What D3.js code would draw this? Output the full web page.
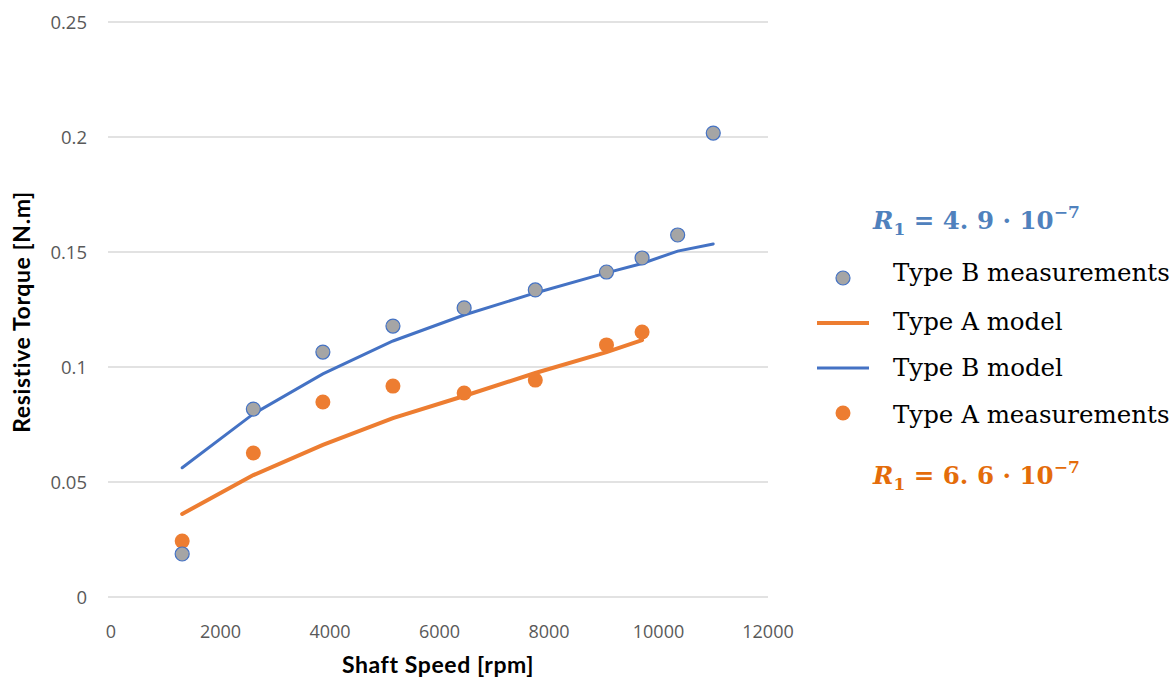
<!DOCTYPE html>
<html><head><meta charset="utf-8">
<script src="https://cdn.jsdelivr.net/npm/d3@7"></script>
<style>body{margin:0;background:#fff}svg{display:block}</style>
</head><body>
<svg id="c" width="1173" height="679"></svg>
<script>
const xTicks = [0,2000,4000,6000,8000,10000,12000];
const yTicks = [0,0.05,0.1,0.15,0.2,0.25];
const yTickLabels = ["0","0.05","0.1","0.15","0.2","0.25"];
const speedB = [1300,2600,3870,5150,6450,7750,9050,9700,10350,11000];
const measB = [0.0187,0.0817,0.1065,0.1178,0.1257,0.1335,0.1413,0.1474,0.1574,0.2017];
const modelB = [0.0562,0.0796,0.0970,0.1113,0.1226,0.1322,0.1409,0.1450,0.1504,0.1535];
const speedA = [1300,2600,3870,5150,6450,7750,9050,9700];
const measA = [0.0243,0.0626,0.0848,0.0917,0.0887,0.0943,0.1096,0.1152];
const modelA = [0.0361,0.0530,0.0661,0.0778,0.0874,0.0974,0.1065,0.1117];

const svg = d3.select("#c");
const x = d3.scaleLinear().domain([0,12000]).range([111,768]);
const y = d3.scaleLinear().domain([0,0.25]).range([597,22]);

svg.append("g").selectAll("line").data(yTicks).join("line")
  .attr("x1",108).attr("x2",768).attr("y1",d=>y(d)).attr("y2",d=>y(d))
  .attr("stroke","#d9d9d9").attr("stroke-width",1.3);

svg.append("g").selectAll("text").data(yTicks).join("text")
  .attr("x",87).attr("y",d=>y(d)+6.5).attr("text-anchor","end")
  .attr("font-family","Open Sans, sans-serif").attr("font-size",18.5).attr("fill","#595959")
  .text((d,i)=>yTickLabels[i]);
svg.append("g").selectAll("text").data(xTicks).join("text")
  .attr("x",d=>x(d)).attr("y",638).attr("text-anchor","middle")
  .attr("font-family","Open Sans, sans-serif").attr("font-size",18).attr("fill","#595959")
  .text(d=>d);

svg.append("text").attr("x",438).attr("y",673).attr("text-anchor","middle")
  .attr("font-family","Lato, sans-serif").attr("font-weight","bold").attr("font-size",23).attr("letter-spacing",0.6).attr("fill","#000")
  .text("Shaft Speed [rpm]");
svg.append("text").attr("transform","translate(30,312) rotate(-90)").attr("text-anchor","middle")
  .attr("font-family","Lato, sans-serif").attr("font-weight","bold").attr("font-size",23).attr("letter-spacing",0.6).attr("fill","#000")
  .text("Resistive Torque [N.m]");

const line = d3.line().x(d=>x(d[0])).y(d=>y(d[1]));
svg.append("path").datum(speedA.map((s,i)=>[s,modelA[i]])).attr("d",line)
  .attr("fill","none").attr("stroke","#ED7D31").attr("stroke-width",4).attr("stroke-linecap","round");
svg.append("path").datum(speedB.map((s,i)=>[s,modelB[i]])).attr("d",line)
  .attr("fill","none").attr("stroke","#4472C4").attr("stroke-width",3).attr("stroke-linecap","round");

svg.append("g").selectAll("circle").data(speedA.map((s,i)=>[s,measA[i]])).join("circle")
  .attr("cx",d=>x(d[0])).attr("cy",d=>y(d[1])).attr("r",7.5).attr("fill","#ED7D31");
svg.append("g").selectAll("circle").data(speedB.map((s,i)=>[s,measB[i]])).join("circle")
  .attr("cx",d=>x(d[0])).attr("cy",d=>y(d[1])).attr("r",7).attr("fill","#A5A5A5")
  .attr("stroke","#4472C4").attr("stroke-width",1.2);

const lg = svg.append("g").attr("font-family","DejaVu Serif, serif").attr("font-size",24.5).attr("fill","#000");
lg.append("circle").attr("cx",843).attr("cy",278).attr("r",7).attr("fill","#A5A5A5").attr("stroke","#4472C4").attr("stroke-width",1.2);
lg.append("text").attr("x",893).attr("y",281).text("Type B measurements");
lg.append("line").attr("x1",817).attr("x2",869).attr("y1",323).attr("y2",323).attr("stroke","#ED7D31").attr("stroke-width",4);
lg.append("text").attr("x",893).attr("y",330).text("Type A model");
lg.append("line").attr("x1",817).attr("x2",869).attr("y1",368).attr("y2",368).attr("stroke","#4472C4").attr("stroke-width",3);
lg.append("text").attr("x",893).attr("y",376).text("Type B model");
lg.append("circle").attr("cx",843).attr("cy",413).attr("r",7.5).attr("fill","#ED7D31");
lg.append("text").attr("x",893).attr("y",423).text("Type A measurements");

function rlabel(yb, val, col){
  const t = svg.append("text").attr("x",873).attr("y",yb)
    .attr("font-family","DejaVu Serif, serif").attr("font-weight","bold").attr("font-size",24.5).attr("fill",col);
  t.append("tspan").attr("font-style","italic").text("R");
  t.append("tspan").attr("font-size",17).attr("dy",6).text("1");
  t.append("tspan").attr("dy",-6).text(" = " + val + " · 10");
  t.append("tspan").attr("font-size",17).attr("dy",-11).text("−7");
}
rlabel(229,"4. 9","#4F81BD");
rlabel(484,"6. 6","#E46C0A");
</script>
</body></html>
